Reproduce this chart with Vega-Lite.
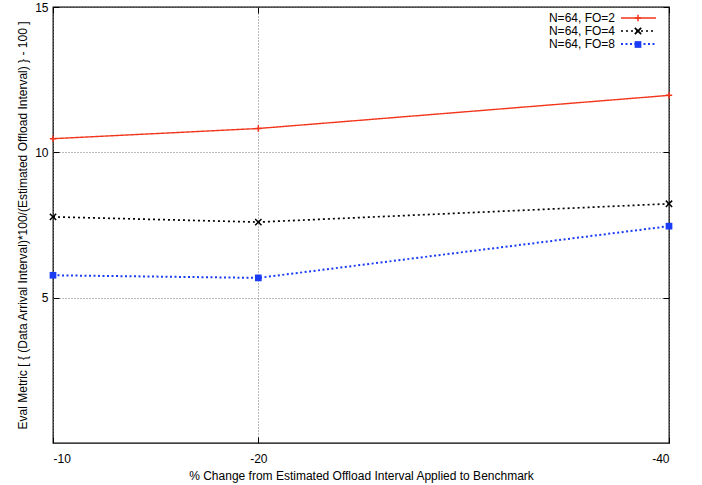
{
  "$schema": "https://vega.github.io/schema/vega-lite/v6.json",
  "width": 616,
  "height": 436,
  "autosize": {"type": "none"},
  "padding": {"left": 53, "top": 7, "right": 33, "bottom": 42},
  "background": "white",
  "config": {
    "font": "Liberation Sans",
    "view": {"stroke": "black", "strokeWidth": 1.3},
    "axis": {
      "labelFontSize": 12,
      "titleFontSize": 12,
      "titleFontWeight": "normal",
      "labelColor": "black",
      "titleColor": "black",
      "domain": false,
      "tickColor": "black",
      "tickSize": -6,
      "tickWidth": 1,
      "gridColor": "#777",
      "gridDash": [1, 2],
      "gridWidth": 1,
      "labelExpr": "'' + datum.value"
    },
    "legend": {"labelFontSize": 12, "padding": 0, "rowPadding": 1, "title": null}
  },
  "data": {
    "values": [
      {"x": -10, "y": 10.47, "series": "N=64, FO=2"},
      {"x": -20, "y": 10.82, "series": "N=64, FO=2"},
      {"x": -40, "y": 11.96, "series": "N=64, FO=2"},
      {"x": -10, "y": 7.78, "series": "N=64, FO=4"},
      {"x": -20, "y": 7.6, "series": "N=64, FO=4"},
      {"x": -40, "y": 8.23, "series": "N=64, FO=4"},
      {"x": -10, "y": 5.77, "series": "N=64, FO=8"},
      {"x": -20, "y": 5.68, "series": "N=64, FO=8"},
      {"x": -40, "y": 7.46, "series": "N=64, FO=8"}
    ]
  },
  "layer": [
    {
      "mark": {"type": "line"},
      "encoding": {
        "x": {
          "field": "x", "type": "quantitative",
          "scale": {"domain": [-40, -10], "reverse": true, "nice": false, "zero": false},
          "axis": {"values": [-10, -20, -40], "title": "% Change from Estimated Offload Interval Applied to Benchmark", "grid": true, "labelPadding": 16, "titlePadding": 6}
        },
        "y": {
          "field": "y", "type": "quantitative",
          "scale": {"domain": [0, 15], "nice": false},
          "axis": {"values": [5, 10, 15], "title": "Eval Metric [ { (Data Arrival Interval)*100/(Estimated Offload Interval) } - 100 ]", "grid": true, "labelPadding": 11, "titlePadding": 5}
        },
        "color": {
          "field": "series", "type": "nominal",
          "scale": {"domain": ["N=64, FO=2", "N=64, FO=4", "N=64, FO=8"], "range": ["#f2361b", "#000000", "#1a3cf5"]},
          "legend": {
            "orient": "none", "legendX": 579.5, "legendY": 5,
            "symbolType": "M-3.5,0H3.5", "symbolSize": 100, "symbolStrokeWidth": 1.8,
            "labelAlign": "right", "labelOffset": -29.5, "labelColor": "black"
          }
        },
        "strokeDash": {
          "field": "series", "type": "nominal",
          "scale": {"domain": ["N=64, FO=2", "N=64, FO=4", "N=64, FO=8"], "range": [[1, 0], [2, 3], [2, 2.5]]}
        },
        "strokeWidth": {
          "field": "series", "type": "nominal",
          "scale": {"domain": ["N=64, FO=2", "N=64, FO=4", "N=64, FO=8"], "range": [1.4, 2, 2.5]},
          "legend": null
        }
      }
    },
    {
      "transform": [{"filter": "datum.series === 'N=64, FO=2'"}, {"calculate": "datum.series", "as": "m2"}],
      "mark": {"type": "point", "filled": false, "opacity": 1, "strokeWidth": 1.5, "size": 40},
      "encoding": {
        "x": {"field": "x", "type": "quantitative", "axis": null},
        "y": {"field": "y", "type": "quantitative", "axis": null},
        "color": {"field": "series", "type": "nominal", "legend": null},
        "shape": {
          "field": "m2", "type": "nominal",
          "scale": {"range": ["M-1,0L1,0M0,-1L0,1"]},
          "legend": {
            "orient": "none", "legendX": 579, "legendY": 5,
            "symbolSize": 40, "symbolStrokeWidth": 1.5, "symbolStrokeColor": "#f2361b", "symbolFillColor": "transparent",
            "labelExpr": "''"
          }
        }
      }
    },
    {
      "transform": [{"filter": "datum.series === 'N=64, FO=4'"}, {"calculate": "datum.series", "as": "m4"}],
      "mark": {"type": "point", "filled": false, "opacity": 1, "strokeWidth": 1.5, "size": 40},
      "encoding": {
        "x": {"field": "x", "type": "quantitative", "axis": null},
        "y": {"field": "y", "type": "quantitative", "axis": null},
        "color": {"field": "series", "type": "nominal", "legend": null},
        "shape": {
          "field": "m4", "type": "nominal",
          "scale": {"range": ["M-1,-1L1,1M-1,1L1,-1"]},
          "legend": {
            "orient": "none", "legendX": 579, "legendY": 18,
            "symbolSize": 40, "symbolStrokeWidth": 1.8, "symbolStrokeColor": "#000000", "symbolFillColor": "transparent",
            "labelExpr": "''"
          }
        }
      }
    },
    {
      "transform": [{"filter": "datum.series === 'N=64, FO=8'"}, {"calculate": "datum.series", "as": "m8"}],
      "mark": {"type": "point", "filled": true, "opacity": 1, "size": 45},
      "encoding": {
        "x": {"field": "x", "type": "quantitative", "axis": {"orient": "top", "values": [-10, -20, -40], "labels": false, "title": null, "grid": false}},
        "y": {"field": "y", "type": "quantitative", "axis": {"orient": "right", "values": [5, 10, 15], "labels": false, "title": null, "grid": false}},
        "color": {"field": "series", "type": "nominal", "legend": null},
        "shape": {
          "field": "m8", "type": "nominal",
          "scale": {"range": ["square"]},
          "legend": {
            "orient": "none", "legendX": 579, "legendY": 31.5,
            "symbolSize": 45, "symbolStrokeWidth": 0, "symbolStrokeColor": "#1a3cf5", "symbolFillColor": "#1a3cf5",
            "labelExpr": "''"
          }
        }
      }
    }
  ],
  "resolve": {
    "axis": {"x": "independent", "y": "independent"},
    "scale": {"shape": "independent"},
    "legend": {"shape": "independent"}
  }
}
